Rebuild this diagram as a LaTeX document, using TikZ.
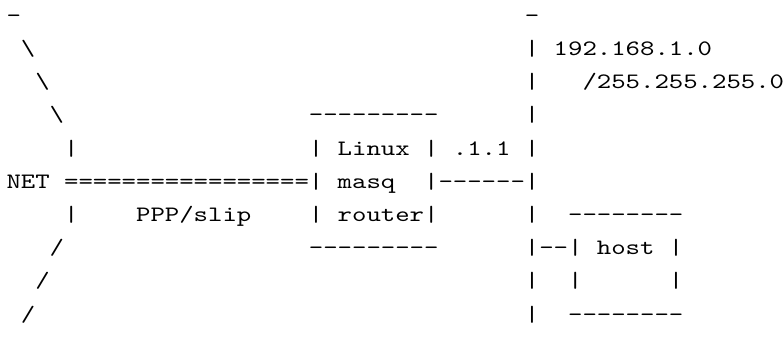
\documentclass[tikz,border=0pt]{standalone}
\usepackage{fontspec}
\setmonofont{lmmono10-regular.otf}[FakeStretch=1.2468]
\tikzset{
  ascii/.style={anchor=base west, inner sep=0pt, outer sep=0pt,
    font={\ttfamily\fontsize{22bp}{33bp}\selectfont}}
}

\begin{document}
\begin{tikzpicture}[x=14.4bp, y=-33.2bp]
  \useasboundingbox (-0.4514,-0.6717) rectangle (53.993,9.7199);

  % the net cloud on the left
  \node[ascii] (cloudtop) at (0,0) {-};
  \node[ascii] (clouda) at (1,1) {\textbackslash};
  \node[ascii] (cloudb) at (2,2) {\textbackslash};
  \node[ascii] (cloudc) at (3,3) {\textbackslash};
  \node[ascii] (cloudd) at (4,4) {|};
  \node[ascii] (net) at (0,5) {NET};
  \node[ascii] (cloude) at (4,6) {|};
  \node[ascii] (cloudf) at (3,7) {/};
  \node[ascii] (cloudg) at (2,8) {/};
  \node[ascii] (cloudh) at (1,9) {/};

  % the ppp line
  \node[ascii] (ppp) at (4,5) {=================|};
  \node[ascii] (ppplabel) at (9,6) {PPP/slip};

  % router box
  \node[ascii] (boxtop) at (21,3) {---------};
  \node[ascii] (boxla) at (21,4) {|};
  \node[ascii] (linux) at (23,4) {Linux};
  \node[ascii] (boxra) at (29,4) {|};
  \node[ascii] (ifaddr) at (31,4) {.1.1};
  \node[ascii] (masq) at (23,5) {masq};
  \node[ascii] (eth) at (29,5) {|------|};
  \node[ascii] (boxlc) at (21,6) {|};
  \node[ascii] (router) at (23,6) {router|};
  \node[ascii] (boxbot) at (21,7) {---------};

  % the local lan
  \node[ascii] (lantop) at (36,0) {-};
  \node[ascii] (lana) at (36,1) {|};
  \node[ascii] (netaddr) at (38,1) {192.168.1.0};
  \node[ascii] (lanb) at (36,2) {|};
  \node[ascii] (netmask) at (40,2) {/255.255.255.0};
  \node[ascii] (lanc) at (36,3) {|};
  \node[ascii] (land) at (36,4) {|};
  \node[ascii] (lane) at (36,6) {|};
  \node[ascii] (lanf) at (36,7) {|--|};
  \node[ascii] (lang) at (36,8) {|};
  \node[ascii] (lanh) at (36,9) {|};

  % host box
  \node[ascii] (hosttop) at (39,6) {--------};
  \node[ascii] (host) at (41,7) {host};
  \node[ascii] (hostra) at (46,7) {|};
  \node[ascii] (hostlb) at (39,8) {|};
  \node[ascii] (hostrb) at (46,8) {|};
  \node[ascii] (hostbot) at (39,9) {--------};

\end{tikzpicture}
\end{document}
